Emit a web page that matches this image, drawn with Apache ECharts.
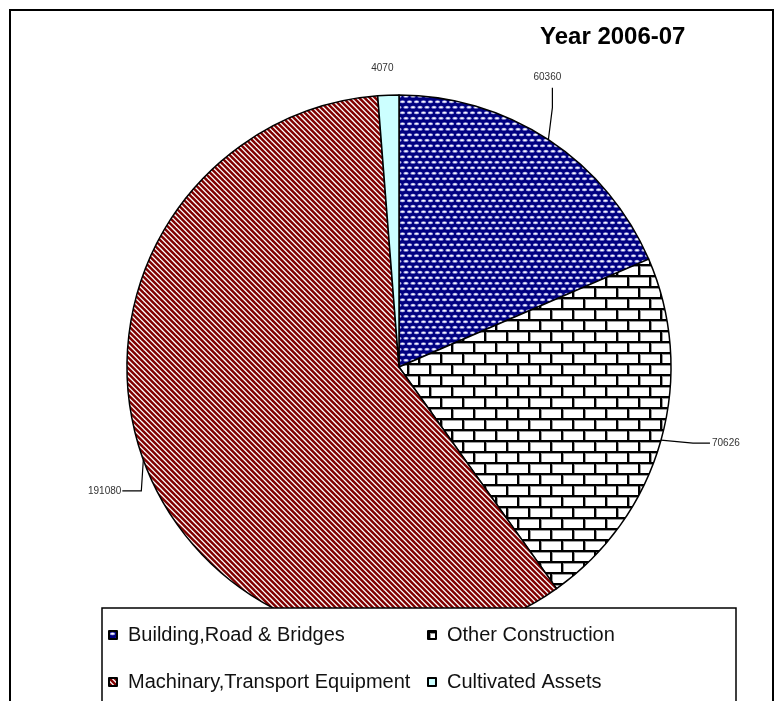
<!DOCTYPE html>
<html>
<head>
<meta charset="utf-8">
<script src="https://cdn.jsdelivr.net/npm/echarts@6/dist/echarts.min.js"></script>
<style>
html,body{margin:0;padding:0;background:#fff;}
#main{width:783px;height:701px;}
</style>
</head>
<body>
<div id="main"></div>
<script>
// data
var categories = ['Building,Road & Bridges', 'Other Construction', 'Machinary,Transport Equipment', 'Cultivated Assets'];
var values = [60360, 70626, 191080, 4070];
var legendCol1 = ['Building,Road & Bridges', 'Machinary,Transport Equipment'];
var legendCol2 = ['Other Construction', 'Cultivated Assets'];
var titleText = 'Year 2006-07';

var FONT = 'Arial, "Liberation Sans", sans-serif';

// pattern tiles (excel style fills)
function makeTile(w, h, draw) {
    var c = document.createElement('canvas');
    c.width = w; c.height = h;
    draw(c.getContext('2d'), w, h);
    return c;
}
var dotsTile = makeTile(14, 11, function (g, w, h) {
    g.fillStyle = '#000080';
    g.fillRect(0, 0, w, h);
    function oval(x, y) {
        g.fillStyle = '#9c9ce0';
        g.beginPath(); g.ellipse(x, y, 2.7, 1.5, 0, 0, Math.PI * 2); g.fill();
        g.fillStyle = '#ffffff';
        g.beginPath(); g.ellipse(x, y, 1.7, 0.8, 0, 0, Math.PI * 2); g.fill();
    }
    oval(3.5, 2.75); oval(10.5, 2.75);
    oval(0, 8.25); oval(7, 8.25); oval(14, 8.25);
});
var brickTile = makeTile(22, 22, function (g, w, h) {
    g.fillStyle = '#ffffff';
    g.fillRect(0, 0, w, h);
    g.fillStyle = '#9a9a9a';
    g.fillRect(0, 2, w, 1); g.fillRect(0, 13, w, 1);
    g.fillRect(2, 0, 1, 11); g.fillRect(13, 11, 1, 11);
    g.fillStyle = '#000000';
    g.fillRect(0, 0, w, 2); g.fillRect(0, 11, w, 2);
    g.fillRect(0, 0, 2, 11); g.fillRect(11, 11, 2, 11);
});
var stripeTile = makeTile(16, 16, function (g, w, h) {
    g.fillStyle = '#ffffff';
    g.fillRect(0, 0, w, h);
    g.strokeStyle = '#800000';
    g.lineWidth = 2.5;
    for (var k = -4; k <= 4; k++) {
        var x0 = k * 16 / 3;
        g.beginPath(); g.moveTo(x0 - 2, -2); g.lineTo(x0 + 18, 18); g.stroke();
    }
});
var fills = [
    { image: dotsTile, repeat: 'repeat' },
    { image: brickTile, repeat: 'repeat' },
    { image: stripeTile, repeat: 'repeat' },
    '#ccffff'
];

// label offsets from the slice edge point: [line mid, line end, label pos, align]
var labelPlace = [
    [[4, -32], [4, -52], [-1, -62], 'center'],
    [[32, 3], [49, 3], [51, 3], 'left'],
    [[-2, 31], [-21, 31], [-22, 31], 'right'],
    [[0, 0], [0, 0], [-6, -27], 'center']
];

var chart = echarts.init(document.getElementById('main'));
chart.setOption({
    animation: false,
    title: {
        text: titleText,
        left: 540,
        top: 25,
        padding: 0,
        textStyle: { fontFamily: FONT, fontSize: 24, fontWeight: 'bold', color: '#000', lineHeight: 24 }
    },
    graphic: [
        {
            type: 'rect', z: 0, silent: true,
            shape: { x: 10, y: 10, width: 763, height: 720 },
            style: { fill: 'none', stroke: '#000', lineWidth: 2 }
        },
        {
            type: 'rect', z: 3, silent: true,
            shape: { x: 102, y: 608, width: 634, height: 120 },
            style: { fill: '#fff', stroke: '#000', lineWidth: 1.5 }
        }
    ],
    legend: [legendCol1, legendCol2].map(function (items, i) {
        return {
            orient: 'vertical',
            left: i === 0 ? 108 : 427,
            top: 625,
            padding: 0,
            itemGap: 27,
            itemWidth: 8,
            itemHeight: 8,
            icon: 'rect',
            z: 5,
            data: items,
            textStyle: { fontFamily: FONT, fontSize: 20, lineHeight: 20, color: '#111', padding: [0, 0, 0, 6] }
        };
    }),
    series: [{
        type: 'pie',
        center: [399, 367],
        radius: 272,
        startAngle: 90,
        clockwise: true,
        avoidLabelOverlap: false,
        itemStyle: { borderColor: '#000', borderWidth: 1.5 },
        label: {
            show: true,
            position: 'outside',
            formatter: '{c}',
            fontFamily: FONT,
            fontSize: 10,
            color: '#333'
        },
        labelLine: { show: true, length: 20, length2: 20, lineStyle: { color: '#000', width: 1.2 } },
        labelLayout: function (p) {
            var pts = p.labelLinePoints;
            if (!pts) return {};
            var e = pts[0];
            var c = labelPlace[p.dataIndex];
            return {
                x: e[0] + c[2][0],
                y: e[1] + c[2][1],
                align: c[3],
                verticalAlign: 'middle',
                labelLinePoints: [
                    [e[0], e[1]],
                    [e[0] + c[0][0], e[1] + c[0][1]],
                    [e[0] + c[1][0], e[1] + c[1][1]]
                ]
            };
        },
        emphasis: { disabled: true },
        data: categories.map(function (name, i) {
            return { name: name, value: values[i], itemStyle: { color: fills[i] } };
        })
    }]
});
</script>
</body>
</html>
